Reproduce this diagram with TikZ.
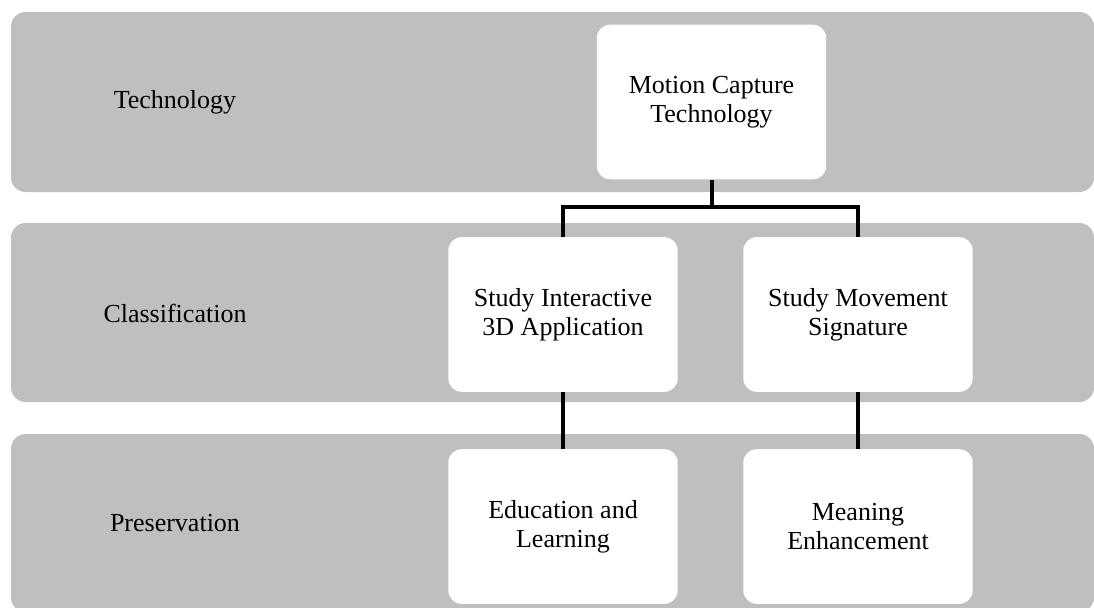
\documentclass[tikz,border=0pt]{standalone}
\usepackage[usenames,dvipsnames,svgnames,table]{xcolor}
\usepackage{fontspec}
\setmainfont{Liberation Serif}
\usepackage{tikz}
\usetikzlibrary{positioning}
\definecolor{bandgray}{HTML}{BFBFBF}
\newcommand{\greyband}[2] % {haut}{bas} en pixels
{
	\fill [bandgray, rounded corners=11pt] (11,#1) rectangle (1094,#2);
}
\tikzset{
	stage/.style={font=\fontsize{19.5}{22}\selectfont, inner sep=0pt},
	box/.style={fill=white, rounded corners=10pt, align=center, inner sep=2pt,
		minimum width=172pt, minimum height=116pt, font=\fontsize{19.5}{21.8}\selectfont},
	link/.style={line width=3pt, black}
}
\begin{document}
\begin{tikzpicture}[x=0.75pt, y=-0.75pt]
	\useasboundingbox (0,0) rectangle (1094,607);
	
	% les trois bandes
	\greyband{12}{192}
	\greyband{223}{402}
	\greyband{434}{612}
	
	\node[stage] (technology) at (175,102) {Technology};
	\node[stage] (classification) at (175,313) {Classification};
	\node[stage] (preservation) at (175,523) {Preservation};
	
	% les boites
	\node[box] (mocap) at (711.5,102) {Motion Capture\\Technology};
	\node[box] (interactive) at (563,314.5) {Study Interactive\\3D Application};
	\node[box] (signature) at (858,314.5) {Study Movement\\Signature};
	\node[box] (education) at (563,526.5) {Education and\\Learning};
	\node[box] (meaning) at (858,526.5) {Meaning\\Enhancement};
	
	\coordinate (split) at (711.5,207);
	\draw[link] (mocap.south) -- (split);
	\draw[link] (interactive.north) |- (split) -| (signature.north);
	\draw[link] (interactive.south) -- (education.north);
	\draw[link] (signature.south) -- (meaning.north);
\end{tikzpicture}
\end{document}
